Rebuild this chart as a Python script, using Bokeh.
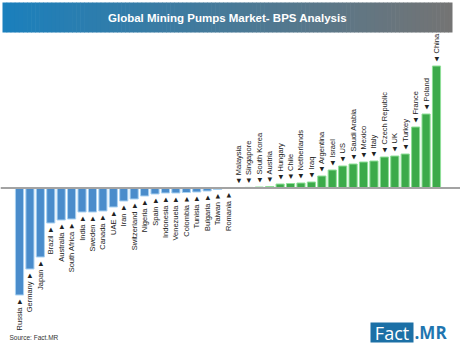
import numpy as np
from bokeh.plotting import figure
from bokeh.models import ColumnDataSource, Range1d, Label, BoxAnnotation, Span
from bokeh.core.properties import value
from bokeh.embed import file_html
from bokeh.resources import INLINE

countries = ["Russia", "Germany", "Japan", "Brazil", "Australia", "South Africa", "India",
             "Sweden", "Canada", "UAE", "Iran", "Switzerland", "Nigeria", "Spain", "Indonesia",
             "Venezuela", "Colombia", "Tunisia", "Bulgaria", "Taiwan", "Romania", "Malaysia",
             "Singapore", "South Korea", "Austria", "Hungary", "Chile", "Netherlands", "Iraq",
             "Argentina", "Israel", "US", "Saudi Arabia", "Mexico", "Italy", "Czech Republic",
             "UK", "Turkey", "France", "Poland", "China"]
bps = [-107, -81, -69, -35, -32, -31, -24, -24, -23, -19, -13, -11, -8, -6, -5,
       -5, -4.5, -4, -3, -1.5, -0.5, 0.3, 0.6, 1, 1.5, 4, 4.5, 5, 6,
       12, 18, 22, 24, 26, 27, 31, 32, 34, 61, 74, 122]

title_text = "Global Mining Pumps Market- BPS Analysis"
source_text = "Source: Fact.MR"

W, H = 460, 358
FONT = "Liberation Sans"

idx = np.arange(len(countries))
vals = np.array(bps, dtype=float)
neg = vals < 0
fill = np.where(neg, "#4a8ccb", "#3caa4a")
edge = np.where(neg, "#a9d2f2", "#8fdf98")
labels = [f"{c} \u25ba" if v < 0 else f"\u25c4 {c}" for c, v in zip(countries, vals)]
label_y = np.where(neg, vals - 3, vals + 3)
aligns = np.where(neg, "right", "left")

src = ColumnDataSource(dict(x=idx, top=vals, fill=fill, edge=edge,
                            label=labels, ly=label_y, align=aligns))

spacing = 10.425
x0 = -19 / spacing
base = 187.5
p = figure(width=W, height=H, output_backend="svg", toolbar_location=None,
           x_range=Range1d(x0, x0 + W / spacing), y_range=Range1d(base - H, base),
           min_border=0, outline_line_color=None)
p.axis.visible = False
p.grid.visible = False
p.background_fill_color = "white"
p.border_fill_color = "white"

p.add_layout(Span(location=0, dimension="width", line_color="#a3a3a3", line_width=2))
p.vbar(x="x", top="top", bottom=0, width=0.78, source=src,
       fill_color="fill", line_color="edge", line_width=1)
p.text(x="x", y="ly", text="label", angle=np.pi / 2, text_align="align",
       text_baseline="middle", text_font=value(FONT), text_font_size="7.5px",
       text_color="#222222", source=src)

# gradient title bar (screen units, origin bottom-left)
n = 110
left, right, top, bot = 2, 452, H - 2, H - 32
c0 = np.array([0x1b, 0x80, 0xbd])
c1 = np.array([0x74, 0x74, 0x74])
step = (right - left) / n
for i in range(n):
    t = i / (n - 1)
    c = (c0 * (1 - t) + c1 * t).astype(int)
    r_edge = min(left + (i + 1) * step + 0.6, right)
    p.add_layout(BoxAnnotation(left=left + i * step, right=r_edge,
                               bottom=bot, top=top,
                               left_units="screen", right_units="screen",
                               top_units="screen", bottom_units="screen",
                               fill_color="#%02x%02x%02x" % tuple(c), fill_alpha=1,
                               line_alpha=0))
p.add_layout(Label(x=227, y=H - 17, x_units="screen", y_units="screen", text=title_text,
                   text_align="center", text_baseline="middle", text_color="white",
                   text_font=FONT, text_font_style="bold", text_font_size="11.5px"))

p.add_layout(Label(x=9, y=H - 337, x_units="screen", y_units="screen", text=source_text,
                   text_align="left", text_baseline="middle", text_color="#333333",
                   text_font=FONT, text_font_size="6.5px"))

# logo
p.add_layout(BoxAnnotation(left=370, right=413, bottom=H - 342, top=H - 322,
                           left_units="screen", right_units="screen",
                           top_units="screen", bottom_units="screen",
                           fill_color="#1c70a6", fill_alpha=1, line_alpha=0))
p.add_layout(Label(x=391.5, y=H - 332, x_units="screen", y_units="screen", text="Fact",
                   text_align="center", text_baseline="middle", text_color="white",
                   text_font="Open Sans", text_font_size="18px"))
p.add_layout(Label(x=414, y=H - 332, x_units="screen", y_units="screen", text=".MR",
                   text_align="left", text_baseline="middle", text_color="#1f76b0",
                   text_font="Open Sans", text_font_style="bold", text_font_size="17px"))

open("out.html", "w").write(file_html(p, INLINE))
